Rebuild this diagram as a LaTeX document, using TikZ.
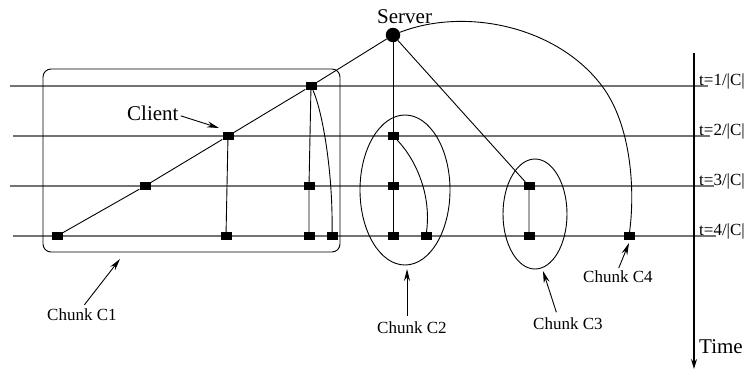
\documentclass[tikz,border=0pt]{standalone}
\usepackage{fontspec}
\setmainfont{Liberation Serif}
\usetikzlibrary{arrows.meta}
\begin{document}
\begin{tikzpicture}[x=1pt,y=-1pt,
  tline/.style={draw=black!55,line width=1.3pt},
  conn/.style={draw=black,line width=0.9pt},
  sq/.style={rectangle,fill=black,minimum width=11pt,minimum height=8pt,inner sep=0pt},
  bigtxt/.style={inner sep=0pt,font=\fontsize{21}{25}\selectfont},
  smalltxt/.style={inner sep=0pt,font=\fontsize{17}{20}\selectfont},
  arr/.style={draw=black,line width=0.9pt,-{Stealth[length=12pt,width=6pt]}}]
\useasboundingbox (0,0) rectangle (747,373);
% time lines
\draw[tline] (10,86) -- (708,86);
\draw[tline] (13,136) -- (710,136);
\draw[tline] (10,186) -- (714,186);
\draw[tline] (13,236) -- (716,236);
% time axis
\coordinate (ttop) at (694,53);
\coordinate (tbot) at (694,369);
\draw[line width=1.3pt,-{Stealth[length=10pt,width=6pt]}] (ttop) -- (tbot);
\node[smalltxt,anchor=base west] (t1) at (699,85) {t=1/|C|};
\node[smalltxt,anchor=base west] (t2) at (699,135) {t=2/|C|};
\node[smalltxt,anchor=base west] (t3) at (699,185) {t=3/|C|};
\node[smalltxt,anchor=base west] (t4) at (699,235) {t=4/|C|};
\node[bigtxt,anchor=base west] (time) at (699,353) {Time};
% chunk shapes
\draw[conn,rounded corners=8pt] (43,69) rectangle (340,252);
\draw[conn] (405,190) ellipse [x radius=45, y radius=75];
\draw[conn] (535,214) ellipse [x radius=32, y radius=55];
% nodes
\node[circle,fill=black,minimum size=14.5pt,inner sep=0pt] (srv) at (393,35) {};
\node[bigtxt,anchor=base west] (srvlbl) at (377,23) {Server};
\node[sq] (a1) at (57,236) {};
\node[sq] (a2) at (145,186) {};
\node[sq] (a3) at (228,136) {};
\node[sq] (a4) at (311,86) {};
\node[sq] (a5) at (226,236) {};
\node[sq] (a6) at (309,186) {};
\node[sq] (a7) at (309,236) {};
\node[sq] (a8) at (332,236) {};
\node[sq] (b1) at (393,136) {};
\node[sq] (b2) at (393,186) {};
\node[sq] (b3) at (393,236) {};
\node[sq] (b4) at (426,236) {};
\node[sq] (d1) at (529,186) {};
\node[sq] (d2) at (529,236) {};
\node[sq] (e1) at (629,236) {};
% connectors
\draw[conn] (srv) -- (a4) -- (a3) -- (a2) -- (a1);
\draw[conn] (a3) -- (a5);
\draw[conn] (a4) -- (a6) -- (a7);
\draw[conn] (a4) .. controls (322,110) and (333,170) .. (a8);
\draw[conn] (srv) -- (b1) -- (b2) -- (b3);
\draw[conn] (b1) .. controls (412,155) and (432,190) .. (b4);
\draw[conn] (srv) -- (d1) -- (d2);
\coordinate (arcmid) at (602,86);
\draw[conn] (srv) .. controls (465,7) and (557,26) .. (arcmid)
  .. controls (632,126) and (635,192) .. (e1);
% labels
\node[bigtxt,anchor=base west] (cl) at (127,120) {Client};
\coordinate (cltip) at (219,128);
\draw[arr] (cl.east) ++(2,3) -- (cltip);
\node[smalltxt,anchor=base west] (l1) at (47,320) {Chunk C1};
\coordinate (c1tip) at (120,259);
\draw[arr,shorten <=4pt] (l1.north) -- (c1tip);
\node[smalltxt,anchor=base west] (l2) at (377,333) {Chunk C2};
\coordinate (c2tip) at (407,269);
\draw[arr,shorten <=5pt] (l2.north -| c2tip) -- (c2tip);
\node[smalltxt,anchor=base west] (l3) at (533,329) {Chunk C3};
\coordinate (c3tip) at (543,271);
\draw[arr,shorten <=5pt] ([xshift=-10pt]l3.north) -- (c3tip);
\node[smalltxt,anchor=base west] (l4) at (583,282) {Chunk C4};
\coordinate (c4tip) at (629,243);
\draw[arr,shorten <=2pt] (l4.north) -- (c4tip);
\end{tikzpicture}
\end{document}
